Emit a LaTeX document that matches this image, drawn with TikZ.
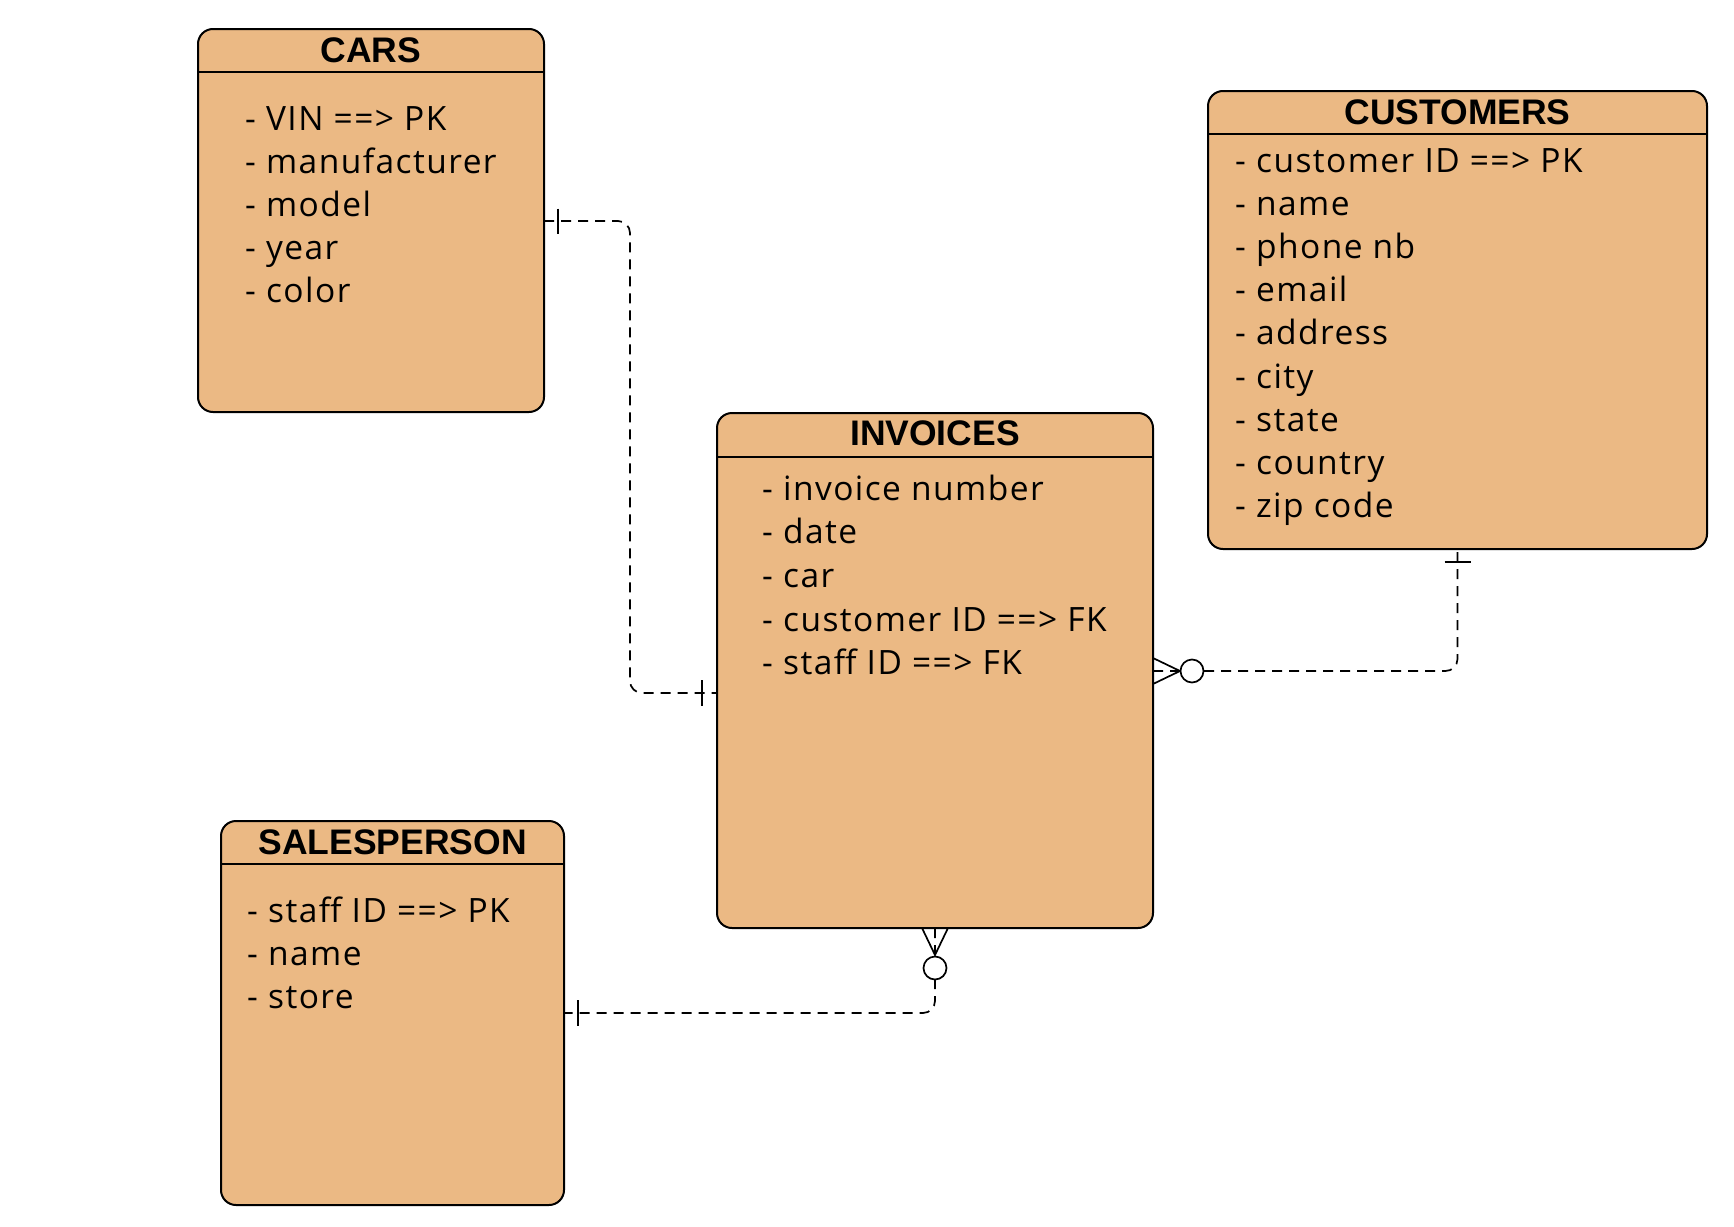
\documentclass[tikz,border=0pt]{standalone}
\usepackage{fontspec}
\setmainfont{Open Sans}[LetterSpace=4.3]
\newfontfamily\headfont{Liberation Sans}
\usetikzlibrary{calc}
\definecolor{tblfill}{HTML}{EBB984}
\begin{document}
\begin{tikzpicture}[x=1pt,y=-1pt,
  tablebox/.style={draw=black, line width=2pt, fill=tblfill, rounded corners=15pt,
    inner sep=0pt, outer sep=0pt, anchor=north west},
  headtxt/.style={font=\headfont\bfseries\fontsize{35.5}{40}\selectfont, inner sep=0pt, anchor=base},
  bodytxt/.style={font=\fontsize{33.5}{40}\selectfont, inner sep=0pt, anchor=base west},
  hline/.style={line width=2pt},
  conn/.style={line width=1.7pt, dash pattern=on 10pt off 7pt, rounded corners=12pt},
  tickmark/.style={line width=1.7pt},
  ring/.style={line width=1.7pt, draw=black, fill=white, circle, minimum size=23pt, inner sep=0pt}]
\useasboundingbox[fill=white] (0,0) rectangle (1734,1226);

% CARS
\node[tablebox, minimum width=346pt, minimum height=383pt] (cars) at (198,29) {};
\draw[hline] (cars.west |- 0,72) -- (cars.east |- 0,72);
\node[headtxt] (carsT) at (cars.north |- 0,62) {CARS};
\foreach \t [count=\i] in {- VIN ==> PK, - manufacturer, - model, - year, - color}
  \node[bodytxt] (cars-\i) at (245,{130+43.1*(\i-1)}) {\t};

% CUSTOMERS
\node[tablebox, minimum width=499pt, minimum height=458pt] (cust) at (1208,91) {};
\draw[hline] (cust.west |- 0,134) -- (cust.east |- 0,134);
\node[headtxt] (custT) at (cust.north |- 0,124) {CUSTOMERS};
\foreach \t [count=\i] in {- customer ID ==> PK, - name, - phone nb, - email, - address, - city, - state, - country, - zip code}
  \node[bodytxt] (cust-\i) at (1235,{172+43.2*(\i-1)}) {\t};

% INVOICES
\node[tablebox, minimum width=436pt, minimum height=515pt] (inv) at (717,413) {};
\draw[hline] (inv.west |- 0,457) -- (inv.east |- 0,457);
\node[headtxt] (invT) at (inv.north |- 0,445) {INVOICES};
\foreach \t [count=\i] in {- invoice number, - date, - car, - customer ID ==> FK, - staff ID ==> FK}
  \node[bodytxt] (inv-\i) at (762,{500+43.7*(\i-1)}) {\t};

% SALESPERSON
\node[tablebox, minimum width=343pt, minimum height=384pt] (sales) at (221,821) {};
\draw[hline] (sales.west |- 0,864) -- (sales.east |- 0,864);
\node[headtxt] (salesT) at (sales.north |- 0,854) {SALESPERSON};
\foreach \t [count=\i] in {- staff ID ==> PK, - name, - store}
  \node[bodytxt] (sales-\i) at (247,{922+43*(\i-1)}) {\t};

% connector CARS -- INVOICES
\coordinate (c1a) at (cars.east |- 0,221);
\coordinate (c1b) at (inv.west |- 0,693);
\draw[conn] (c1a) -- (630,221) -- (630,693) -- (c1b);
\draw[tickmark] ($(c1a)+(14,-12.5)$) -- ++(0,25);
\draw[tickmark] ($(c1b)+(-15,-13)$) -- ++(0,26);

% connector INVOICES -- CUSTOMERS
\coordinate (c2a) at (inv.east |- 0,671);
\coordinate (c2b) at (cust.south);
\draw[conn] (c2a) -- (c2b |- c2a) -- (c2b);
\draw[tickmark] ($(c2a)+(0,-13)$) -- ($(c2a)+(27,0)$) -- ($(c2a)+(0,13)$);
\node[ring] (ring2) at ($(c2a)+(39,0)$) {};
\draw[tickmark] ($(c2b)+(-13,13)$) -- ++(26,0);

% connector INVOICES -- SALESPERSON
\coordinate (c3a) at (inv.south);
\coordinate (c3b) at (sales.east |- 0,1013);
\draw[conn] (c3a) -- (c3a |- c3b) -- (c3b);
\draw[tickmark] ($(c3a)+(-13,0)$) -- ($(c3a)+(0,27)$) -- ($(c3a)+(13,0)$);
\node[ring] (ring3) at ($(c3a)+(0,40)$) {};
\draw[tickmark] ($(c3b)+(14,-13)$) -- ++(0,26);
\end{tikzpicture}
\end{document}
